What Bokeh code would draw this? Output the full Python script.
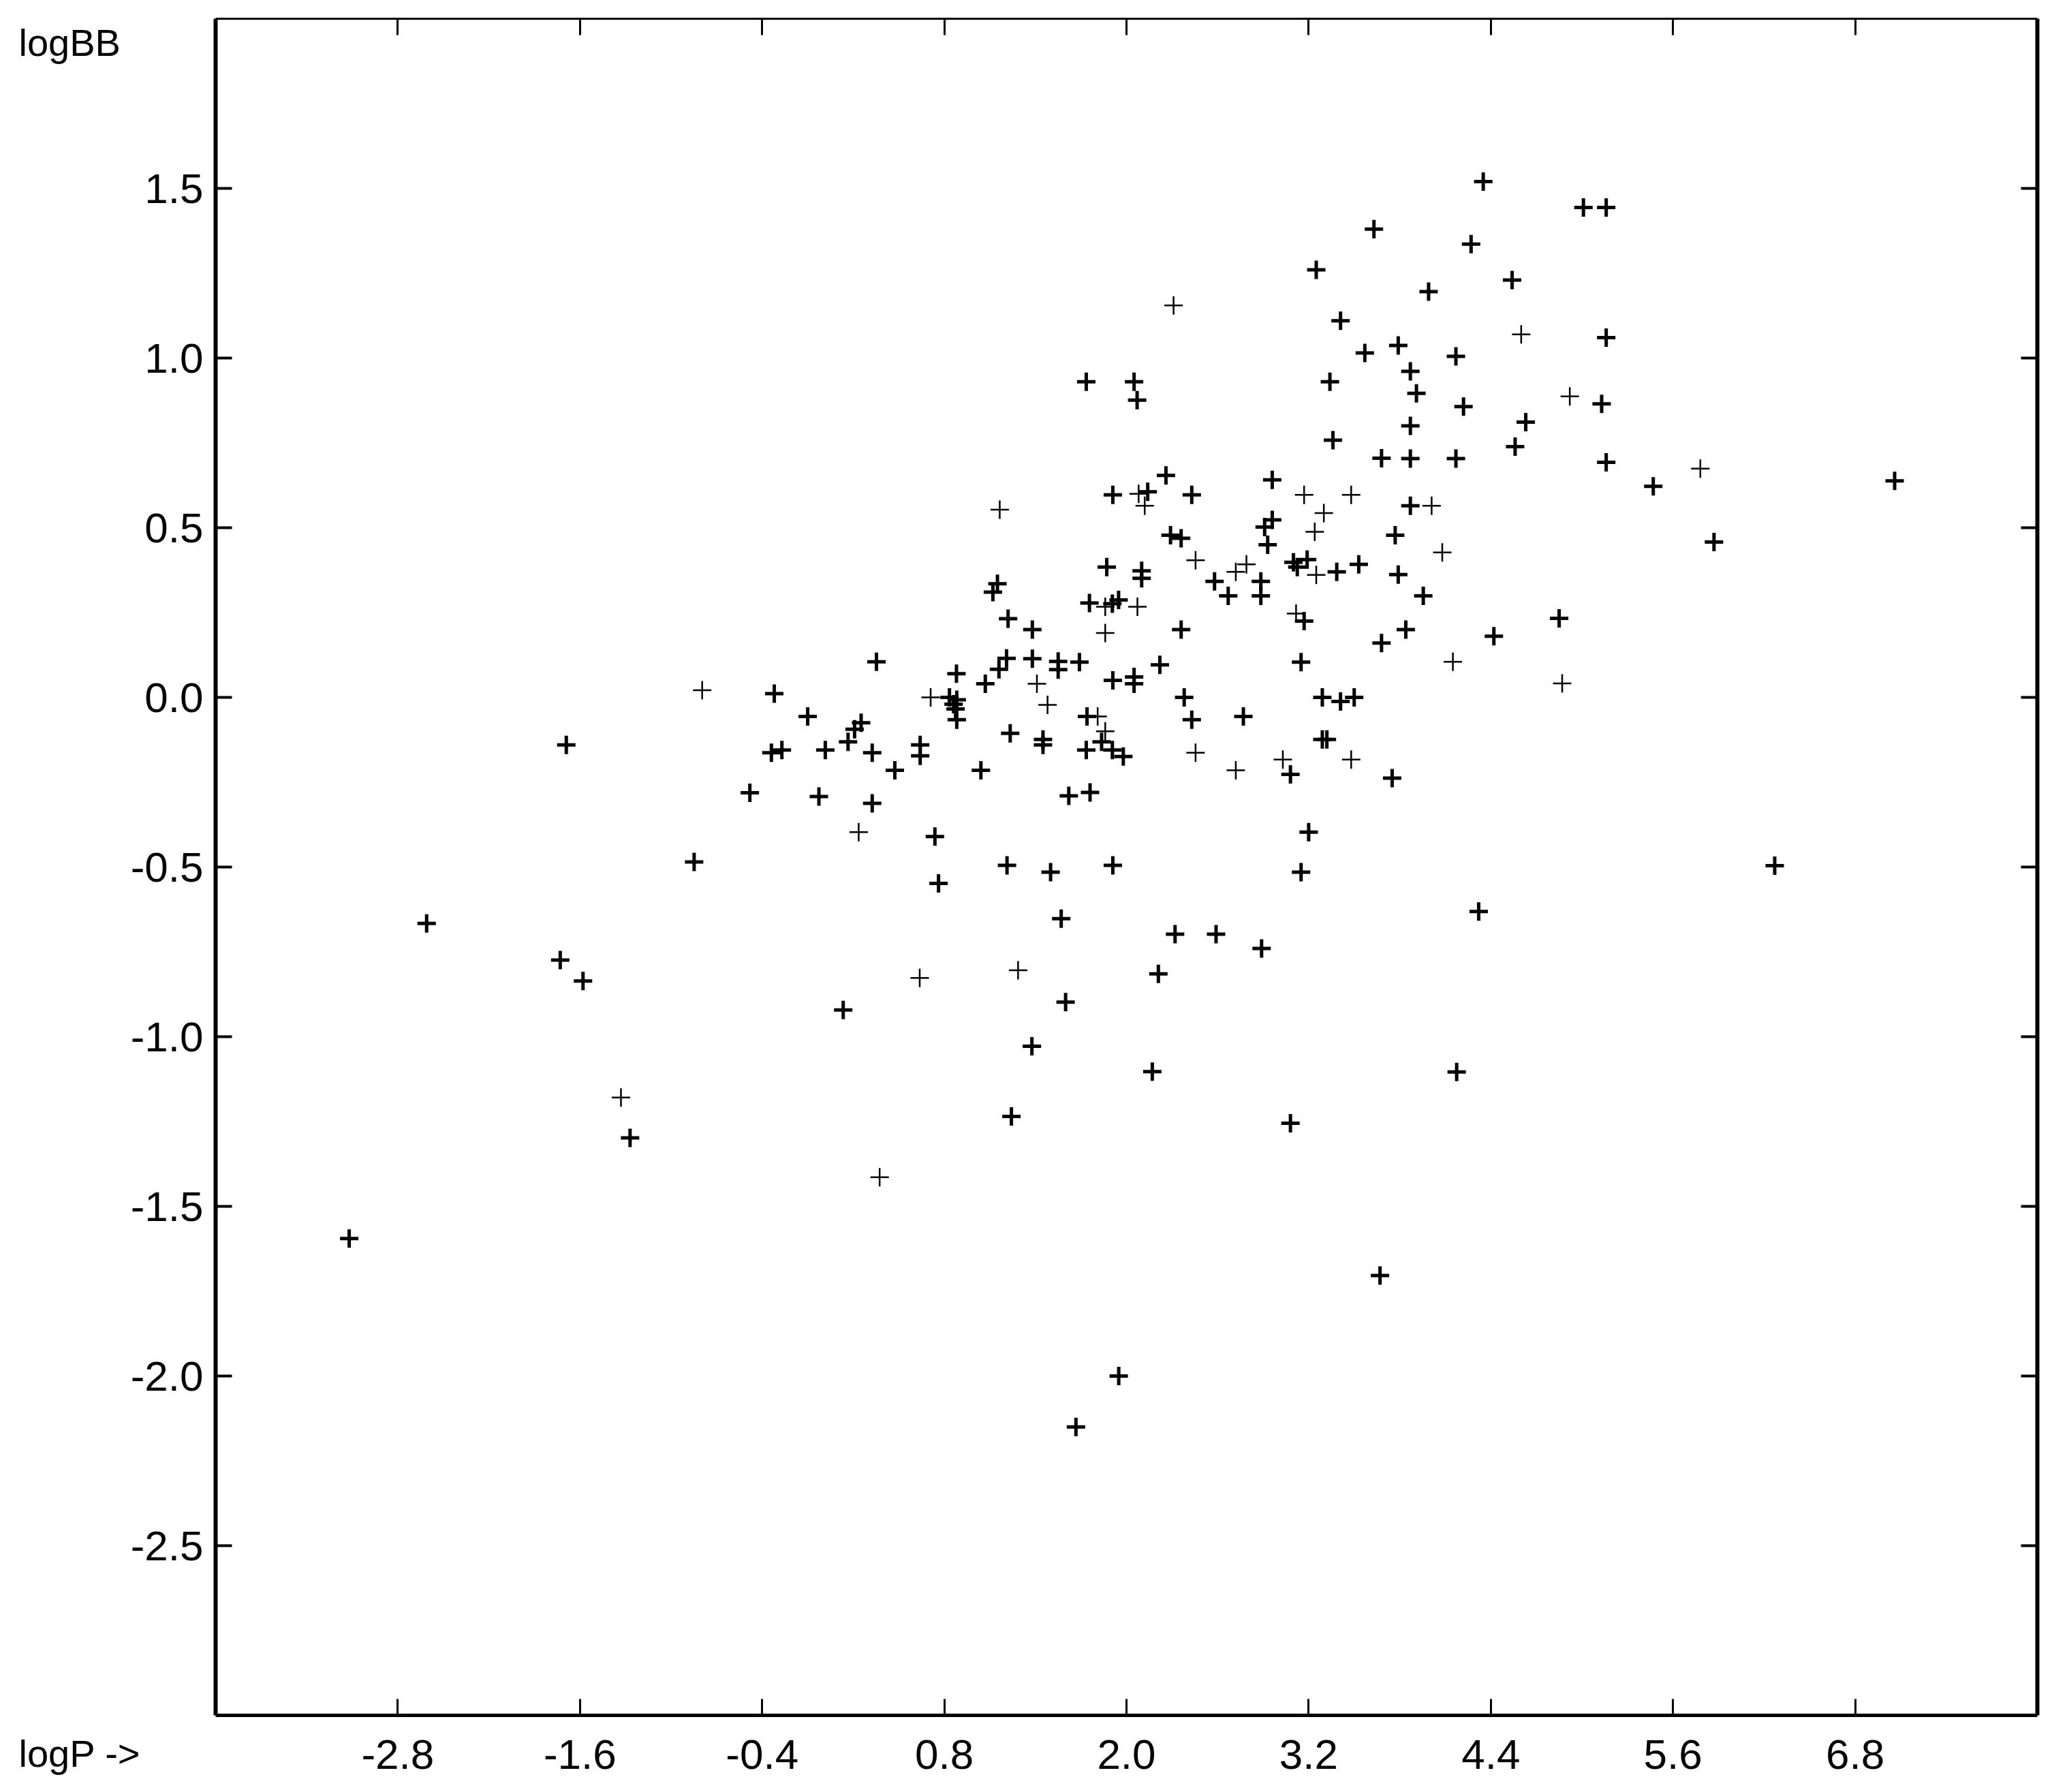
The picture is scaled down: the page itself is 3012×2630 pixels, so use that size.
from bokeh.plotting import figure
from bokeh.models import Range1d, FixedTicker, PrintfTickFormatter, LinearAxis, Label
from bokeh.embed import file_html
from bokeh.resources import INLINE

# ---- data ----
x_ticks = [-2.8, -1.6, -0.4, 0.8, 2.0, 3.2, 4.4, 5.6, 6.8]
y_ticks = [-2.5, -2.0, -1.5, -1.0, -0.5, 0.0, 0.5, 1.0, 1.5]
x_label = "logP ->"
y_label = "logBB"

logP_bold = [
    3.63, 3.25, 3.41, 3.57, 3.34, 1.735, 2.05, 2.07, 3.36, 3.68, 2.26, 2.96, 1.91, 2.14, 2.43,
    2.96, 2.91, 3.77, 2.29, 2.36, 2.93, 1.87, 2.10, 2.10, 3.10, 3.19, 3.125, 3.385, 3.53, 2.58,
    2.67, 2.885, 2.885, 1.756, 1.907, 1.948,
    4.35, 5.01, 5.16, 4.27, 4.54, 3.99, 5.16, 3.79, 4.17, 3.87, 3.91, 5.13, 4.22, 4.63, 3.87,
    4.56, 3.87, 4.17, 5.16, 5.47, 3.87, 5.87, 3.79, 3.955, 4.85,
    1.38, 2.36, 3.17, 3.68, 1.38, 1.55, 1.55, 1.69, 2.22, 3.15, 1.91, 2.05, 2.05, 2.38, 3.29,
    3.41, 3.50, 1.74, 2.43, 2.77, 1.45, 1.45, 1.836, 1.907, 1.979, 1.735, 3.29, 3.32, 3.08, 3.75,
    1.62, 1.76, 3.20, 1.50, 1.91, 3.15, 1.57, 2.32, 2.59, 2.89,
    1.22, 0.353, 1.21, 1.16, 0.88, 1.07, -0.32, 0.834, 0.882, 0.861, 0.874, 0.882, -0.10, 0.252,
    0.209, 0.166, 1.234, -0.339, -0.27, 0.016, 0.325, 0.641, 0.641, 0.474, 1.041, -0.481, -0.026,
    0.325, 0.738, -0.848, 1.213, 0.762,
    3.84, 4.42, 4.32,
    2.21, 4.175, 3.08, 2.17, 0.134, 1.599, 1.377, 1.242, 1.949, 1.667,
    -3.12, -2.61, -1.69, -1.73, -1.58, -1.27, 1.12, 1.15, 7.06, 6.27, 3.67,
]
logBB_bold = [
    1.38, 1.26, 1.11, 1.015, 0.93, 0.93, 0.93, 0.876, 0.758, 0.705, 0.654, 0.641, 0.597, 0.606, 0.597,
    0.523, 0.502, 0.478, 0.478, 0.469, 0.45, 0.384, 0.373, 0.351, 0.398, 0.406, 0.384, 0.37, 0.392, 0.342,
    0.299, 0.342, 0.299, 0.278, 0.276, 0.287,
    1.52, 1.444, 1.444, 1.336, 1.23, 1.196, 1.06, 1.037, 1.005, 0.961, 0.896, 0.865, 0.857, 0.811, 0.80,
    0.739, 0.704, 0.704, 0.693, 0.622, 0.565, 0.458, 0.362, 0.299, 0.233,
    0.20, 0.20, 0.225, 0.16, 0.114, 0.106, 0.082, 0.104, 0.096, 0.104, 0.05, 0.06, 0.04, 0.0, 0.0,
    -0.012, 0.0, -0.056, -0.066, -0.056, -0.124, -0.14, -0.131, -0.155, -0.174, -0.155, -0.124, -0.124, -0.227, -0.238,
    -0.29, -0.28, -0.397, -0.515, -0.495, -0.515, -0.652, -0.698, -0.698, -0.74,
    0.232, 0.105, 0.115, 0.083, 0.07, 0.04, 0.011, 0.0, -0.007, -0.02, -0.034, -0.066, -0.056, -0.075,
    -0.094, -0.131, -0.106, -0.163, -0.155, -0.155, -0.163, -0.14, -0.172, -0.215, -0.215, -0.281, -0.292,
    -0.312, -0.41, -0.485, -0.495, -0.548,
    0.20, 0.18, -0.631,
    -0.815, -1.104, -1.255, -1.103, -0.921, -0.898, -1.028, -1.235, -2.0, -2.15,
    -1.595, -0.666, -0.14, -0.774, -0.836, -1.298, 0.31, 0.335, 0.638, -0.496, -1.704,
]

logP_thin = [
    2.31, 2.08, 2.12, 3.17, 3.48, 3.30, 3.24, 2.455, 2.79, 2.72, 3.25, 1.86, 2.072, 3.117,
    4.60, 4.92, 5.78, 4.01, 4.08,
    1.86, 1.41, 1.48, 1.81, 1.86, 2.455, 3.03, 3.48, 2.72,
    -0.795, 0.71, 0.236,
    4.15, 4.87,
    0.638, 1.286, 0.374,
    -1.33, 1.165,
]
logBB_thin = [
    1.155, 0.60, 0.565, 0.597, 0.597, 0.543, 0.488, 0.404, 0.392, 0.37, 0.361, 0.267, 0.267, 0.247,
    1.07, 0.887, 0.674, 0.565, 0.427,
    0.19, 0.04, -0.022, -0.056, -0.10, -0.163, -0.183, -0.183, -0.215,
    0.021, 0.0, -0.397,
    0.105, 0.041,
    -0.827, -0.804, -1.414,
    -1.179, 0.553,
]

FONT = "Liberation Sans"
FS = "62px"
LABEL_FS = "56px"

p = figure(
    frame_width=2674, frame_height=2490,
    x_range=Range1d(-4.0, 8.0), y_range=Range1d(-3.0, 2.0),
    output_backend="svg", toolbar_location=None,
    min_border_left=316, min_border_top=27, min_border_right=22, min_border_bottom=113,
    background_fill_color="white", border_fill_color="white",
)
p.outline_line_color = None
p.grid.visible = False

xt = FixedTicker(ticks=x_ticks)
yt = FixedTicker(ticks=y_ticks)


def style_axis(ax, ticker, line_w, tick_w, show_labels, standoff):
    ax.ticker = ticker
    ax.formatter = PrintfTickFormatter(format="%.1f")
    ax.axis_line_width = line_w
    ax.axis_line_color = "black"
    ax.major_tick_in = 24
    ax.major_tick_out = 0
    ax.major_tick_line_width = tick_w
    ax.major_tick_line_color = "black"
    ax.minor_tick_line_color = None
    ax.major_label_text_font = FONT
    ax.major_label_standoff = standoff
    if show_labels:
        ax.major_label_text_font_size = FS
        ax.major_label_text_color = "black"
    else:
        ax.major_label_text_font_size = "0px"
        ax.major_label_text_color = None


style_axis(p.xaxis[0], xt, 5, 3, True, 36)
style_axis(p.yaxis[0], yt, 6, 4, True, 18)

top = LinearAxis()
style_axis(top, xt, 3, 3, False, 0)
p.add_layout(top, "above")
right = LinearAxis()
style_axis(right, yt, 6, 4, False, 0)
p.add_layout(right, "right")

p.scatter(logP_bold, logBB_bold, marker="cross", size=27, line_width=5, line_color="black")
p.scatter(logP_thin, logBB_thin, marker="cross", size=27, line_width=2.5, line_color="black")

# axis names: y name at the top-left, x name at the bottom-left (one text block, one line each)
names = Label(x=27, y=30, x_units="canvas", y_units="canvas",
              text=y_label + "\n" * 33 + x_label,
              text_font=FONT, text_font_size=LABEL_FS, text_color="black",
              text_baseline="top", text_align="left", text_line_height=1.2078)
p.add_layout(names, "left")

open("out.html", "w").write(file_html(p, INLINE))
